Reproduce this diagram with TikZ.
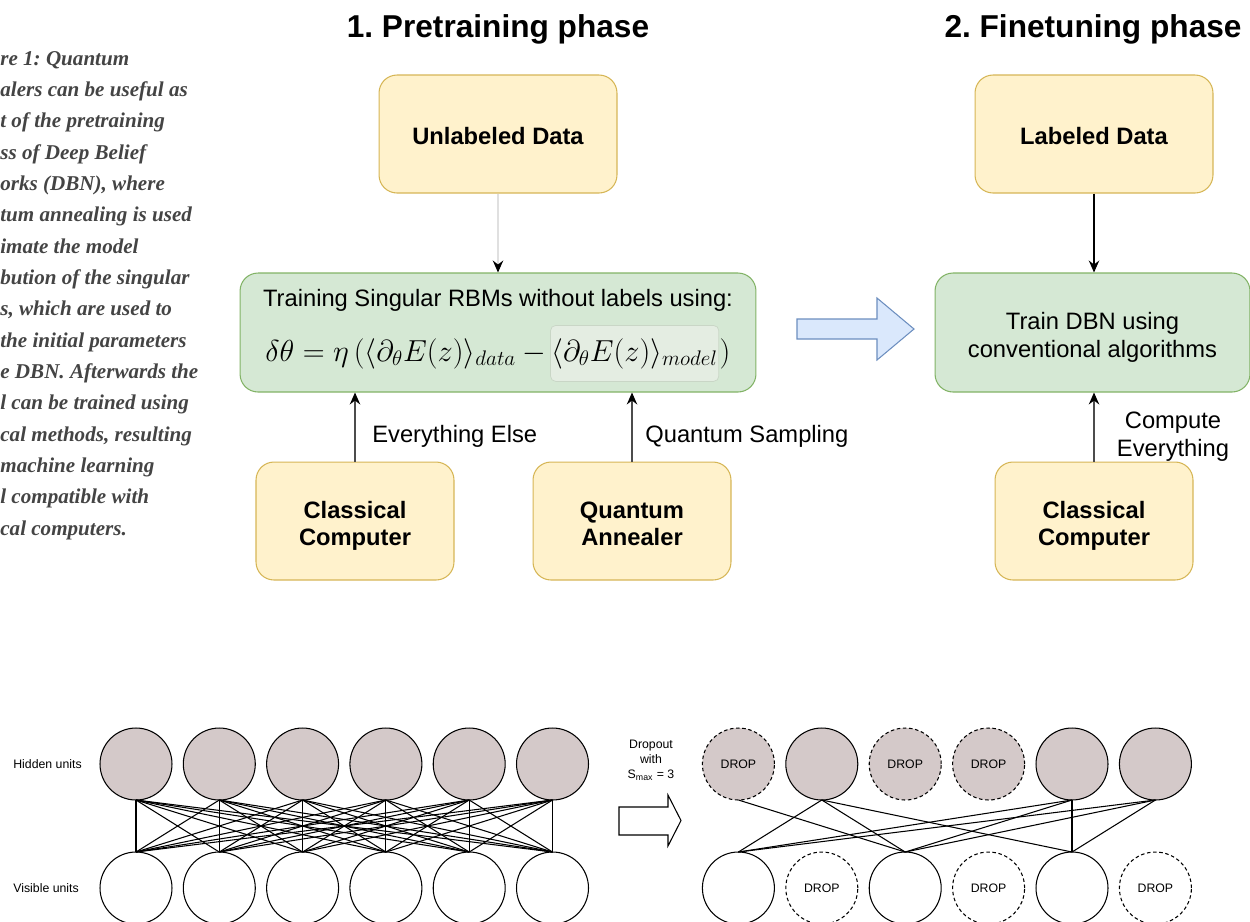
\documentclass[tikz,border=0pt]{standalone}
\usepackage{fontspec}
\setmainfont{Liberation Sans}
\newfontfamily\capfont{Liberation Serif}
\usetikzlibrary{positioning,arrows.meta,calc}
\frenchspacing

\definecolor{datafill}{HTML}{FFF2CC}
\definecolor{dataline}{HTML}{D6B656}
\definecolor{trainfill}{HTML}{D5E8D4}
\definecolor{trainline}{HTML}{82B366}
\definecolor{modelfill}{HTML}{E4EDE2}
\definecolor{modelline}{HTML}{C9D6C6}
\definecolor{phasefill}{HTML}{DAE8FC}
\definecolor{phaseline}{HTML}{6C8EBF}
\definecolor{unitfill}{HTML}{D4C9C9}
\definecolor{captext}{HTML}{444444}

\begin{document}
\begin{tikzpicture}[x=0.02cm,y=-0.02cm,
    databox/.style={draw=dataline, fill=datafill, line width=0.6pt, rounded corners=0.36cm, minimum width=4.76cm, minimum height=2.36cm, align=center, font=\fontsize{13.5}{15.5}\selectfont\bfseries, execute at begin node={\rule{0pt}{17pt}}, execute at end node={\strut}},
    hwbox/.style={databox, minimum width=3.96cm, execute at begin node={\rule{0pt}{32.5pt}}},
    trainbox/.style={draw=trainline, fill=trainfill, line width=0.6pt, rounded corners=0.36cm, minimum height=2.38cm, align=center, font=\fontsize{13.5}{16}\selectfont, execute at begin node={\rule{0pt}{33.2pt}}, execute at end node={\strut}},
    phase/.style={font=\fontsize{18}{22}\selectfont\bfseries},
    lbl/.style={inner sep=0pt, align=center, font=\fontsize{13.5}{16}\selectfont},
    feed/.style={draw=black!70, line width=0.6pt, -{Stealth[length=2.4mm, width=2.1mm, inset=0.8mm, color=black]}},
    unit/.style={circle, draw, line width=0.6pt, minimum size=1.44cm, inner sep=0pt, outer sep=0pt, font=\fontsize{7}{8}\selectfont},
    hunit/.style={unit, fill=unitfill},
    vunit/.style={unit, fill=white},
    keep/.style={},
    drop/.style={dash pattern=on 2pt off 1.5pt},
    small/.style={inner sep=0pt, align=center, font=\fontsize{7}{8.6}\selectfont},
]
    \useasboundingbox (0,0) rectangle (1250,921);

    \node[anchor=north west, inner sep=0pt, align=left, text=captext,
          font=\fontsize{12}{17.83}\selectfont\capfont\bfseries\itshape] (cap) at (0,51)
        {re 1: Quantum\\ alers can be useful as\\ t of the pretraining\\ ss of Deep Belief\\
         orks (DBN), where\\ tum annealing is used\\ imate the model\\ bution of the singular\\
         s, which are used to\\ the initial parameters\\ e DBN. Afterwards the\\ l can be trained using\\
         cal methods, resulting\\ machine learning\\ l compatible with\\ cal computers.};

    \node[phase] (pre) at (498,29) {1. Pretraining phase};
    \node[phase] (fine) at (1093,29) {2. Finetuning phase};

    \node[databox] (unlab) at (498,134) {Unlabeled Data};
    \node[trainbox, minimum width=10.32cm] (rbm) at (498,332.5) {};
    \node[lbl] (rbmtxt) at (498,300) {Training Singular RBMs without labels using:};
    \node[inner sep=0pt, anchor=base west, font=\fontsize{16.8}{20}\selectfont] (fl) at (265,361)
        {$\delta\theta=\eta\,\big(\langle\partial_\theta E(z)\rangle_{data}-{}$};
    \node[draw=modelline, fill=modelfill, rounded corners=3pt, inner xsep=0.5pt, minimum height=1.12cm,
          anchor=base west, font=\fontsize{16.8}{20}\selectfont] (fm) at ([xshift=-2pt]fl.base east)
        {$\langle\partial_\theta E(z)\rangle_{model}$};
    \node[inner sep=0pt, anchor=base west, font=\fontsize{16.8}{20}\selectfont] (fr) at (fm.base east) {$\big)$};

    \node[hwbox] (cc) at (355,521) {Classical\\Computer};
    \node[hwbox] (qa) at (632,521) {Quantum\\Annealer};
    \draw[feed, draw=black!12] (unlab) -- (rbm);
    \draw[feed] (cc) -- (cc |- rbm.south);
    \draw[feed] (qa) -- (qa |- rbm.south);
    \node[lbl, anchor=west] (else) at (372,436) {Everything Else};
    \node[lbl, anchor=west] (qs) at (645,436) {Quantum Sampling};

    \draw[draw=phaseline, fill=phasefill, line width=0.6pt]
        (797,319) -- (877,319) -- (877,298) -- (914,329) -- (877,360) -- (877,339) -- (797,339) -- cycle;

    \node[databox] (lab) at (1094,134) {Labeled Data};
    \node[trainbox, minimum width=6.3cm] (dbn) at (1092.5,332.5) {Train DBN using\\conventional algorithms};
    \node[hwbox] (cc2) at (1094,521) {Classical\\Computer};
    \draw[feed, draw=black] (lab) -- (lab |- dbn.north);
    \draw[feed] (cc2) -- (cc2 |- dbn.south);
    \node[lbl] (ce) at (1173,437) {Compute\\Everything};

    \node[small, anchor=west] (hid) at (13,764) {Hidden units};
    \node[small, anchor=west] (vis) at (13,888) {Visible units};
    \foreach \x in {1,...,6}
    {
        \node[hunit] (h-\x) at ({136+83.3*(\x-1)},764) {};
        \node[vunit] (v-\x) at ({136+83.3*(\x-1)},888) {};
    }
    \foreach \x in {1,...,6}
    {   \foreach \y in {1,...,6}
        {   \draw[line width=0.6pt] (h-\x.south) -- (v-\y.north);
        }
    }

    \node[small] (dtxt) at (651,760) {Dropout\\with\\S\textsubscript{max} = 3};
    \draw[line width=0.6pt, fill=white]
        (619,807) -- (668,807) -- (668,795) -- (681,820.5) -- (668,846) -- (668,835) -- (619,835) -- cycle;

    \foreach \x/\st/\txt in {1/drop/DROP,2/keep/,3/drop/DROP,4/drop/DROP,5/keep/,6/keep/}
    {
        \node[hunit, \st] (dh-\x) at ({738.4+83.4*(\x-1)},764) {\txt};
    }
    \foreach \x/\st/\txt in {1/keep/,2/drop/DROP,3/keep/,4/drop/DROP,5/keep/,6/drop/DROP}
    {
        \node[vunit, \st] (dv-\x) at ({738.4+83.4*(\x-1)},888) {\txt};
    }
    \foreach \x/\y in {1/3,2/1,2/3,2/5,5/1,5/3,5/5,6/1,6/3,6/5}
    {   \draw[line width=0.6pt] (dh-\x.south) -- (dv-\y.north);
    }
\end{tikzpicture}
\end{document}
